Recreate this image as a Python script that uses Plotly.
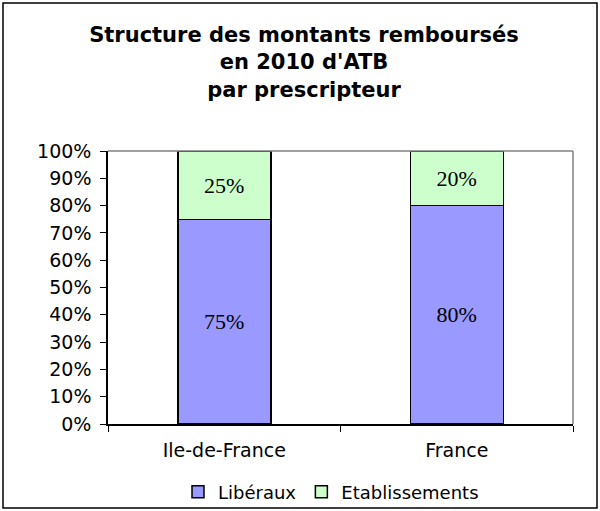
import plotly.graph_objects as go

categories = ["Ile-de-France", "France"]
liberaux = [0.75, 0.80]
etablissements = [0.25, 0.20]
series_names = ["Libéraux", "Etablissements"]
tick_vals = [0, 0.1, 0.2, 0.3, 0.4, 0.5, 0.6, 0.7, 0.8, 0.9, 1.0]
tick_text = ["0%", "10%", "20%", "30%", "40%", "50%", "60%", "70%", "80%", "90%", "100%"]

W, H = 600, 511
L, R, T, B = 108, 27, 151, 87
pw, ph = W - L - R, H - T - B
SANS = "DejaVu Sans"

def px_x(px):
    return (px - L) / pw

def px_y(py):
    return (H - B - py) / ph

label_font = dict(family="Liberation Serif", size=22, color="black")

fig = go.Figure()
fig.add_trace(go.Bar(
    x=categories, y=liberaux, name=series_names[0],
    marker=dict(color="#9999FF", line=dict(color="black", width=1.5)),
    text=[f"{round(v*100)}%" for v in liberaux], textposition="inside",
    insidetextanchor="middle", textfont=label_font,
))
fig.add_trace(go.Bar(
    x=categories, y=etablissements, name=series_names[1],
    marker=dict(color="#CCFFCC", line=dict(color="black", width=1.5)),
    text=[f"{round(v*100)}%" for v in etablissements], textposition="inside",
    insidetextanchor="middle", textfont=label_font,
))

fig.update_layout(
    width=W, height=H,
    barmode="stack", bargap=0.6,
    margin=dict(l=L, r=R, t=T, b=B, autoexpand=False),
    paper_bgcolor="white", plot_bgcolor="white",
    font=dict(family=SANS, size=19, color="black"),
    title=dict(
        text="<b>Structure des montants remboursés<br>en 2010 d'ATB<br>par prescripteur</b>",
        x=304 / W, xanchor="center", xref="container", yref="container", y=1 - 42 / H, yanchor="top",
        font=dict(family=SANS, size=21, color="black"),
    ),
    showlegend=True,
    legend=dict(orientation="h", xref="container", yref="container",
                x=331 / W, xanchor="center", y=1 - 492 / H, yanchor="middle",
                font=dict(family=SANS, size=18), traceorder="normal",
                itemwidth=30, bgcolor="rgba(0,0,0,0)"),
    uniformtext=dict(mode=False),
    hovermode=False,
)
fig.update_xaxes(
    showline=True, linecolor="black", linewidth=1.5, mirror=False,
    ticks="outside", tickson="boundaries", ticklen=6, tickcolor="black",
    showgrid=False, tickfont=dict(size=19), ticklabelstandoff=8, automargin=False,
)
fig.update_yaxes(
    range=[0, 1], tickvals=tick_vals, ticktext=tick_text,
    showline=True, linecolor="black", linewidth=1.5,
    ticks="outside", ticklen=6, tickcolor="black",
    showgrid=False, zeroline=False, tickfont=dict(size=19), ticklabelstandoff=5,
    automargin=False,
)

# plot area border (top and right, gray)
fig.add_shape(type="line", xref="paper", yref="paper", x0=0, x1=1, y0=1, y1=1,
              line=dict(color="#808080", width=1.5))
fig.add_shape(type="line", xref="paper", yref="paper", x0=1, x1=1, y0=0, y1=1,
              line=dict(color="#808080", width=1.5))
# outer chart frame
fig.add_shape(type="rect", xref="paper", yref="paper",
              x0=px_x(3), x1=px_x(597), y0=px_y(508), y1=px_y(3),
              line=dict(color="black", width=1.5), fillcolor="rgba(0,0,0,0)", layer="below")

fig.write_html("out.html", config={"displayModeBar": False},
               post_script="document.body.style.margin='0';document.body.style.overflow='hidden';")
